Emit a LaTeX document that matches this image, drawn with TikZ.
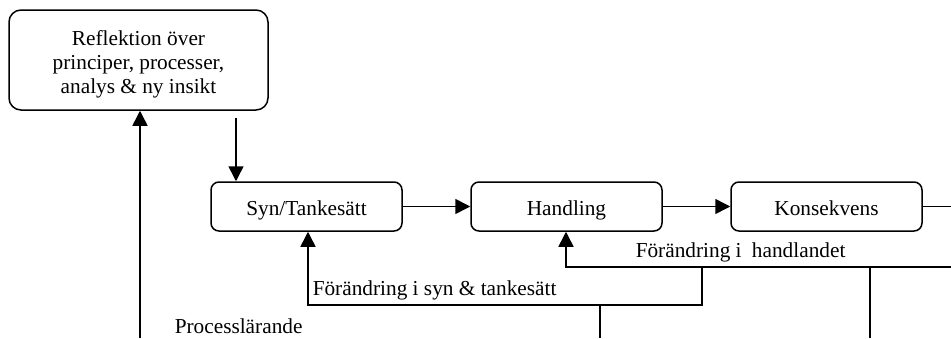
\documentclass[tikz,border=0pt]{standalone}
\usepackage{fontspec}
\setmainfont{Liberation Serif}
\usetikzlibrary{arrows.meta}
\begin{document}
\begin{tikzpicture}[x=1pt,y=-1pt,
  line width=1.5pt,
  every node/.style={font=\fontsize{21.3}{24}\selectfont},
  stagebox/.style={draw,rounded corners=8pt,minimum width=191pt,minimum height=49pt,
    inner sep=0pt,text height=18pt,text depth=1pt},
  flow/.style={-{Triangle[length=15pt,width=15pt]}},
  lbl/.style={inner sep=0pt,anchor=west}]
\useasboundingbox (0,0) rectangle (951,338);

% reflection box and its text
\node[draw,rounded corners=12pt,minimum width=259pt,minimum height=100pt,inner sep=0pt]
  (refl) at (138.5,60) {};
\node[align=center,inner sep=0pt] (reflt) at (138.5,64)
  {Reflektion över\\principer, processer,\\analys \& ny insikt};

% main chain
\node[stagebox] (syn) at (306.5,206.5) {Syn/Tankesätt};
\node[stagebox] (hand) at (566.5,206.5) {Handling};
\node[stagebox] (kons) at (826.5,206.5) {Konsekvens};

\draw[flow] (syn) -- (hand);
\draw[flow] (hand) -- (kons);
\coordinate (kout) at (951,206.5);
\draw (kons) -- (kout);

% reflection feeds into the way of seeing
\coordinate (rdown) at (236,118);
\draw[flow] (rdown) -- (rdown |- syn.north);

% process learning loop back to reflection
\coordinate (pl) at (140,338);
\draw[flow] (pl) -- (pl |- refl.south);
\node[lbl] (plt) at (174,326) {Processlärande};

% feedback: change in action
\coordinate (h1) at (951,267);
\coordinate (h2) at (566,267);
\draw[flow] (h1) -- (h2) -- (h2 |- hand.south);
\node[lbl] (ht) at (635,252) {Förändring i\hspace{5pt} handlandet};
\coordinate (hv) at (870,338);
\draw (hv) -- (hv |- h1);

% feedback: change in way of seeing
\coordinate (s1) at (702,267);
\coordinate (s2) at (702,305);
\coordinate (s3) at (308,305);
\draw[flow] (s1) -- (s2) -- (s3) -- (s3 |- syn.south);
\node[lbl] (st) at (312,290) {Förändring i syn \& tankesätt};
\coordinate (sv) at (600,338);
\draw (sv) -- (sv |- s3);
\end{tikzpicture}
\end{document}
